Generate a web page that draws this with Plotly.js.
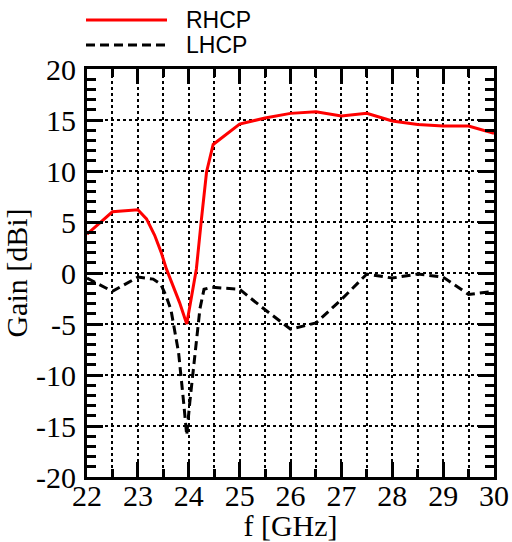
<!DOCTYPE html>
<html>
<head>
<meta charset="utf-8">
<script src="https://cdn.plot.ly/plotly-3.0.1.min.js"></script>
<style>html,body{margin:0;padding:0;background:#fff;}#chart{width:512px;height:542px;}</style>
</head>
<body>
<div id="chart"></div>
<script>
// Frequency [GHz] and gain [dBi]
var rhcpFreq = [22.0, 22.5, 23.0, 23.17, 23.33, 23.46, 23.56, 23.69, 23.82, 23.96, 24.15, 24.25, 24.35, 24.48, 25.0, 25.5, 26.0, 26.5, 27.0, 27.5, 28.0, 28.5, 29.0, 29.5, 30.0];
var rhcpGain = [3.8, 6.0, 6.2, 5.3, 3.7, 2.0, 0.4, -1.2, -2.9, -5.0, 0.4, 5.3, 9.9, 12.6, 14.6, 15.2, 15.65, 15.8, 15.4, 15.65, 14.9, 14.55, 14.4, 14.4, 13.7];

var lhcpFreq = [22.0, 22.5, 23.0, 23.3, 23.45, 23.55, 23.65, 23.8, 23.9, 23.96, 24.02, 24.12, 24.22, 24.3, 24.45, 25.0, 25.5, 26.0, 26.5, 27.0, 27.5, 28.0, 28.5, 29.0, 29.5, 30.0];
var lhcpGain = [-0.5, -1.8, -0.4, -0.6, -1.1, -2.2, -3.6, -7.8, -12.7, -15.9, -12.7, -7.8, -3.5, -1.6, -1.4, -1.6, -3.6, -5.5, -4.9, -2.6, -0.1, -0.5, -0.1, -0.4, -2.1, -1.8];

var seriesNames = ["RHCP", "LHCP"];
var xTitle = "f [GHz]";
var yTitle = "Gain [dBi]";
var xTickVals = [22, 23, 24, 25, 26, 27, 28, 29, 30];
var xTickText = ["22", "23", "24", "25", "26", "27", "28", "29", "30"];
var yTickVals = [-20, -15, -10, -5, 0, 5, 10, 15, 20];
var yTickText = ["-20", "-15", "-10", "-5", "0", "5", "10", "15", "20"];

var serif = "Liberation Serif, Times New Roman, serif";
var sans = "Liberation Sans, Arial, sans-serif";

var traces = [
  {x: rhcpFreq, y: rhcpGain, mode: "lines", name: seriesNames[0],
   line: {color: "#ff0000", width: 3}},
  {x: lhcpFreq, y: lhcpGain, mode: "lines", name: seriesNames[1],
   line: {color: "#000000", width: 3, dash: "9px,5px"}}
];

// plot-area pixel geometry helpers for legend placement
var L = 87, R = 18, T = 69, B = 65, W = 512, H = 542;
var pw = W - L - R, ph = H - T - B;
function px(x){ return (x - L) / pw; }
function py(y){ return (H - B - y) / ph; }

var layout = {
  width: W, height: H,
  font: {family: serif, size: 30, color: "#000"},
  margin: {l: L, r: R, t: T, b: B, pad: 0},
  paper_bgcolor: "#ffffff", plot_bgcolor: "#ffffff",
  showlegend: false,
  xaxis: {
    range: [22, 30], tickmode: "array", tickvals: xTickVals, ticktext: xTickText,
    ticks: "inside", ticklen: 15, tickwidth: 3, tickcolor: "#000",
    ticklabelstandoff: -10,
    showline: true, linewidth: 3, linecolor: "#000", mirror: "allticks",
    showgrid: true, gridcolor: "#000", gridwidth: 2, griddash: "3px,3px",
    zeroline: false,
    minor: {tickmode: "linear", tick0: 22, dtick: 0.5, ticks: "inside", ticklen: 8, tickwidth: 3, tickcolor: "#000",
            showgrid: true, gridcolor: "#000", gridwidth: 2, griddash: "3px,3px"},
    tickfont: {family: serif, size: 30, color: "#000"},
    title: {text: xTitle, font: {family: serif, size: 30, color: "#000"}, standoff: 0}
  },
  yaxis: {
    range: [-20, 20], tickmode: "array", tickvals: yTickVals, ticktext: yTickText,
    ticks: "inside", ticklen: 16, tickwidth: 3, tickcolor: "#000",
    ticklabelstandoff: 2,
    showline: true, linewidth: 3, linecolor: "#000", mirror: "allticks",
    showgrid: true, gridcolor: "#000", gridwidth: 2, griddash: "3px,3px",
    zeroline: false,
    minor: {tickmode: "linear", tick0: 0, dtick: 1, ticks: "inside", ticklen: 9, tickwidth: 3, tickcolor: "#000", showgrid: false},
    tickfont: {family: serif, size: 30, color: "#000"},
    title: {text: yTitle, font: {family: serif, size: 30, color: "#000"}, standoff: 0}
  },
  shapes: [
    {type: "line", xref: "paper", yref: "paper", x0: px(86), x1: px(167), y0: py(20), y1: py(20),
     line: {color: "#ff0000", width: 3}},
    {type: "line", xref: "paper", yref: "paper", x0: px(86), x1: px(167), y0: py(45), y1: py(45),
     line: {color: "#000000", width: 3, dash: "9px,5px"}}
  ],
  annotations: [
    {xref: "paper", yref: "paper", x: px(184), y: py(20), xanchor: "left", yanchor: "middle",
     text: seriesNames[0], showarrow: false, font: {family: sans, size: 23, color: "#000"}},
    {xref: "paper", yref: "paper", x: px(184), y: py(45), xanchor: "left", yanchor: "middle",
     text: seriesNames[1], showarrow: false, font: {family: sans, size: 23, color: "#000"}}
  ]
};

Plotly.newPlot("chart", traces, layout, {displayModeBar: false, staticPlot: true});
</script>
</body>
</html>
